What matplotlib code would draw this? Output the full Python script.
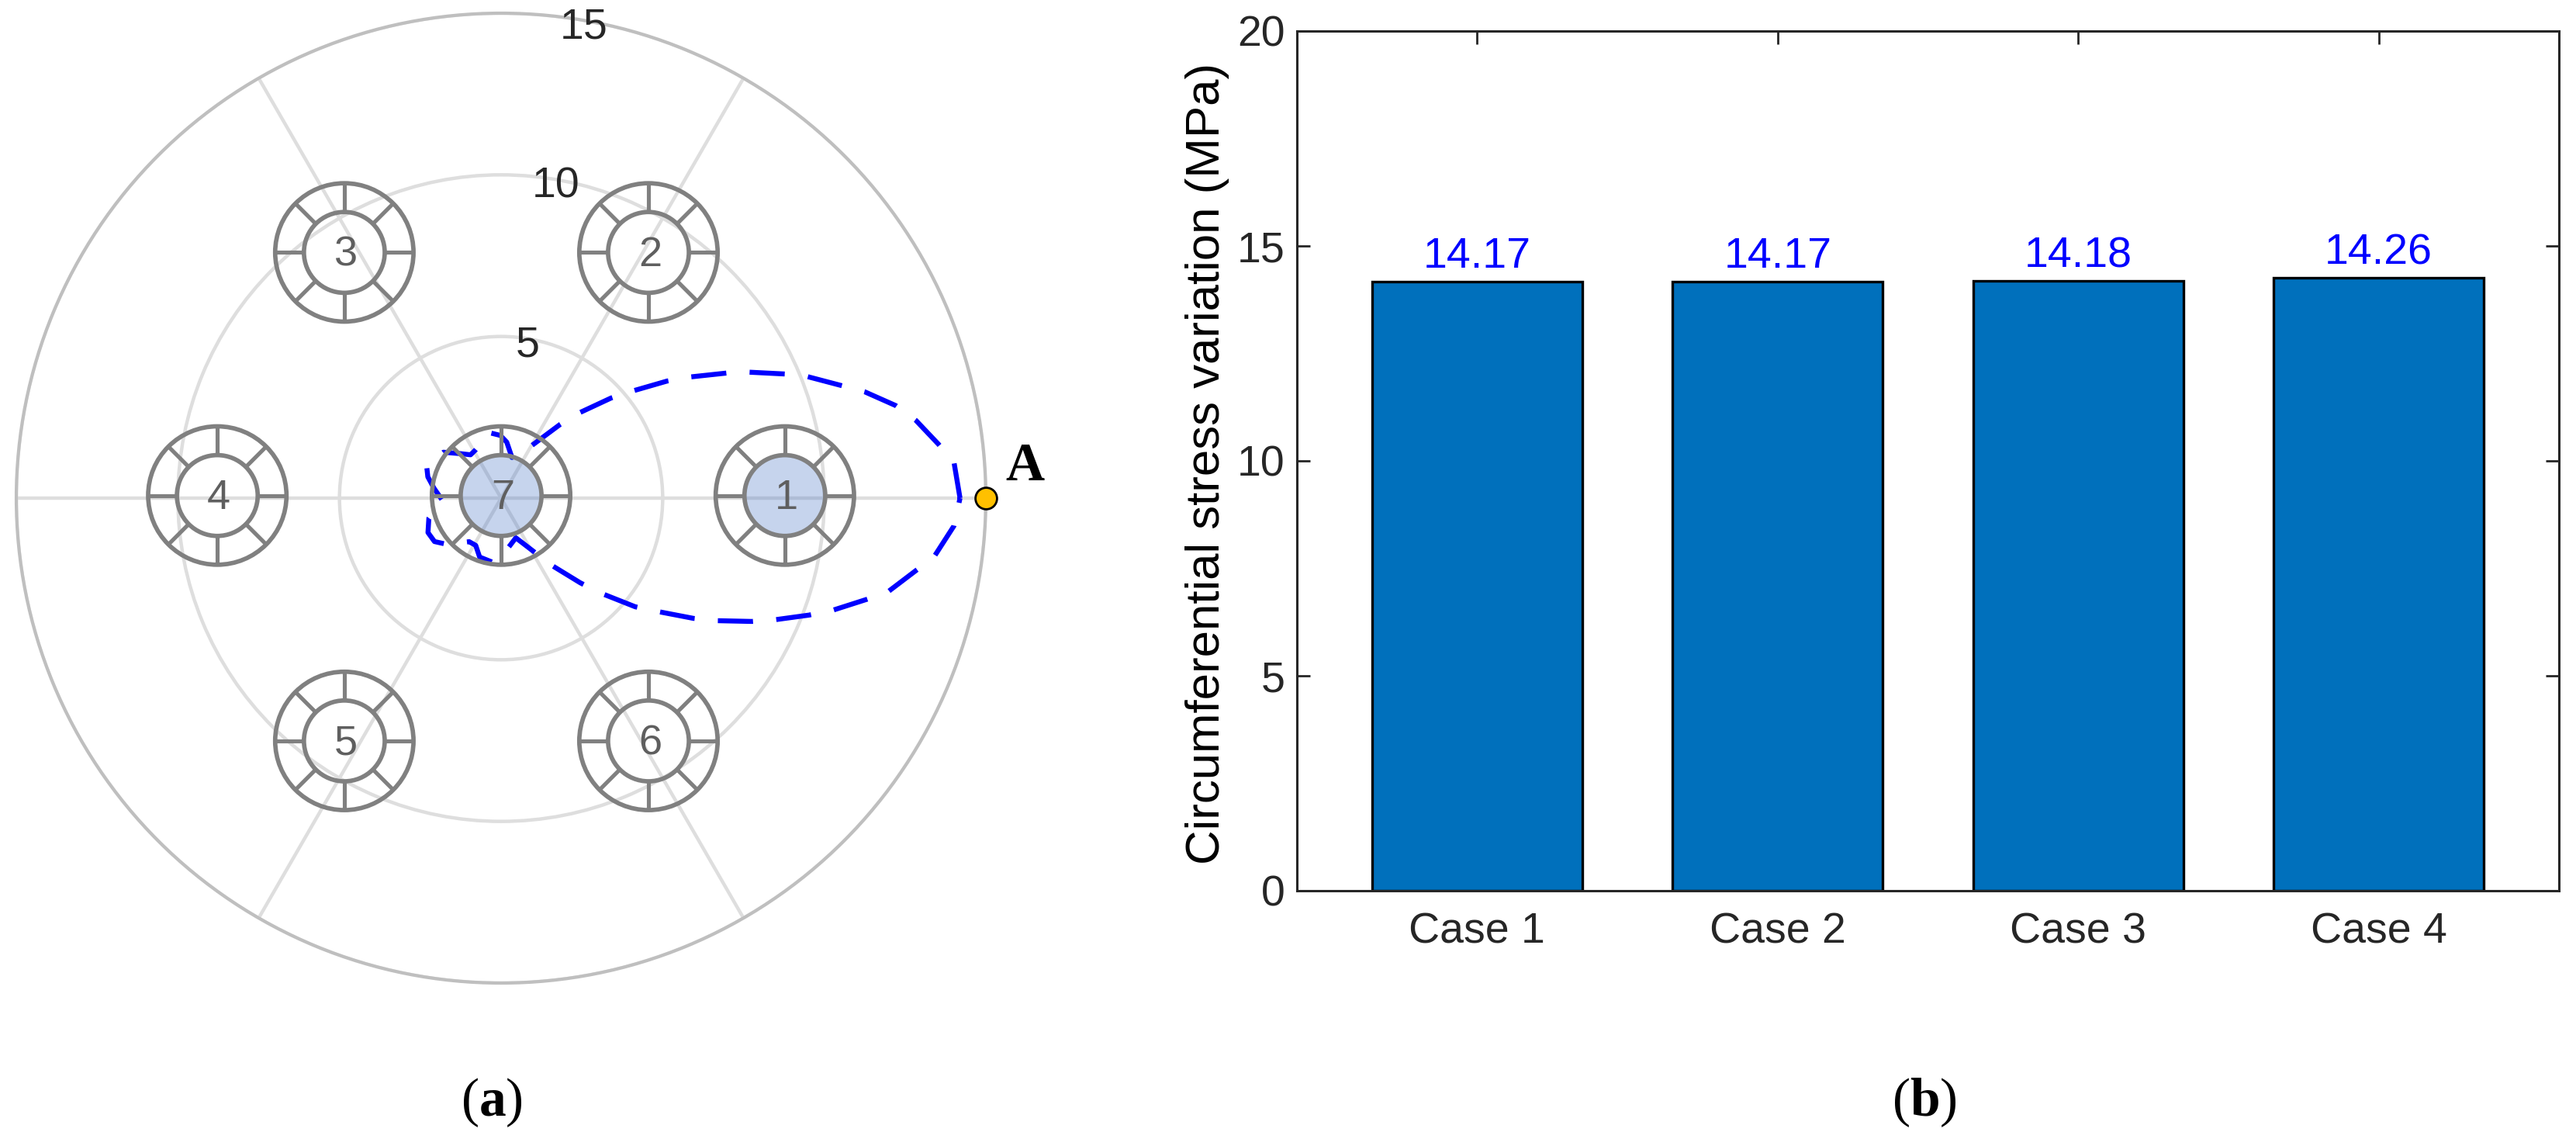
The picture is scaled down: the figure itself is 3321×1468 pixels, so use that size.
import numpy as np
import matplotlib
matplotlib.use("Agg")
import matplotlib.pyplot as plt
from matplotlib.patches import Circle

plt.rcParams['font.family'] = ['Liberation Sans', 'DejaVu Sans']
plt.rcParams['mathtext.fontset'] = 'custom'
plt.rcParams['mathtext.rm'] = 'Liberation Serif'
plt.rcParams['mathtext.bf'] = 'Liberation Serif:bold'

# ---- data: panel (a) ----
curve_theta_deg = [0, 4.4, 7.0, 10.6, 13.2, 16.3, 18.2, 21.7, 23.6, 26.9, 29.0, 32.8, 35.2, 39.1, 42.3,
                   47.8, 51.3, 59.9, 75, 84.2, 90.7, 99.7, 117.7, 125.2, 132.6, 141.5, 157, 163.8, 171.9,
                   182, 195.6, 205.2, 213.1, 219.9, 233.8, 241.8, 250, 262.4, 277.9, 290.4, 301, 306.7,
                   313.1, 316.6, 321, 324.1, 328, 330.3,
                   333.8, 335.9, 339.2, 341.2, 344.5, 346.3, 350.1, 352.2, 356.5, 360]
curve_r = [14.2, 14.06, 13.64, 13.06, 12.54, 11.72, 11.12, 10.18, 9.59, 8.61, 7.98, 6.91, 6.28, 5.26, 4.60,
           3.53, 2.92, 1.87, 1.30, 1.74, 1.94, 2.05, 1.69, 1.64, 1.87, 2.28, 2.50, 2.36, 2.09,
           1.82, 2.32, 2.50, 2.46, 2.22, 1.67, 1.66, 1.94, 2.00, 1.56, 1.31, 1.90, 2.57,
           3.59, 4.30, 5.34, 5.98, 7.02, 7.65,
           8.64, 9.23, 10.19, 10.80, 11.73, 12.30, 13.03, 13.51, 14.04, 14.2]
r_ticks = [5, 10, 15]
theta_ticks = [0, 60, 120, 180, 240, 300]
station_labels = ['1', '2', '3', '4', '5', '6', '7']
station_x = [8.78, 4.56, -4.85, -8.78, -4.85, 4.56, 0.0]
station_y = [0.08, 7.60, 7.60, 0.08, -7.51, -7.51, 0.08]
active_stations = ['1', '7']
point_A = (15.0, 0.0)

# ---- data: panel (b) ----
cases = ['Case 1', 'Case 2', 'Case 3', 'Case 4']
stress = [14.17, 14.17, 14.18, 14.26]
y_ticks = [0, 5, 10, 15, 20]

W, H = 3321, 1468
fig = plt.figure(figsize=(W / 100, H / 100), dpi=100, facecolor='white')


def rect(x0, y_top, x1, y_bot):
    return [x0 / W, 1 - y_bot / H, (x1 - x0) / W, (y_bot - y_top) / H]


GREY = '#808080'
TXT = '#262626'

# ---- polar panel ----
cx, cy, R = 646, 642, 625
pos = rect(cx - R, cy - R, cx + R, cy + R)
ax = fig.add_axes(pos, projection='polar')
ax.set_rlim(0, 15)
ax.set_rticks(r_ticks)
ax.set_thetagrids(theta_ticks, labels=[''] * len(theta_ticks))
ax.set_yticklabels([])
ax.grid(True, color='#DEDEDE', lw=3.2)
ax.spines['polar'].set_color('#BFBFBF')
ax.spines['polar'].set_linewidth(3.0)
ax.set_axisbelow(True)
ax.plot(np.deg2rad(curve_theta_deg), curve_r, color='#0000FF', lw=4.6,
        linestyle=(0, (7.1, 4.7)), dash_capstyle='butt', dash_joinstyle='round', zorder=2)
for r in r_ticks:
    ax.text(np.deg2rad(80), r - 0.22, str(r), ha='center', va='center', fontsize=40, color=TXT, zorder=5)

# ---- station overlay on same frame ----
ov = fig.add_axes(pos, facecolor='none')
ov.set_xlim(-15, 15)
ov.set_ylim(-15, 15)
ov.set_aspect('equal')
ov.axis('off')
r_in, r_out = 1.25, 2.14
for lab, x, y in zip(station_labels, station_x, station_y):
    if lab in active_stations:
        ov.add_patch(Circle((x, y), r_in, facecolor=(68 / 255, 114 / 255, 196 / 255, 0.30), edgecolor='none', zorder=3))
    ov.add_patch(Circle((x, y), r_in, fill=False, edgecolor=GREY, lw=4.1, zorder=4))
    ov.add_patch(Circle((x, y), r_out, fill=False, edgecolor=GREY, lw=4.1, zorder=4))
    for a in np.deg2rad(np.arange(0, 360, 45)):
        ov.plot([x + r_in * np.cos(a), x + r_out * np.cos(a)],
                [y + r_in * np.sin(a), y + r_out * np.sin(a)],
                color=GREY, lw=3.7, solid_capstyle='butt', zorder=4)
    ov.text(x + 0.05, y - 0.08, lab, ha='center', va='center', fontsize=39, color='#5F5F5F', zorder=5)
ov.plot([point_A[0]], [point_A[1]], 'o', ms=20, mfc='#FFC000', mec='black', mew=2.0, clip_on=False, zorder=6)
ov.text(point_A[0] + 0.62, point_A[1] + 0.55, 'A', family='Liberation Serif', fontweight='bold',
        fontsize=50, color='black', ha='left', va='baseline', clip_on=False, zorder=6)

# ---- bar panel ----
bx = fig.add_axes(rect(1672, 40, 3299, 1148))
xpos = np.arange(1, len(cases) + 1)
bars = bx.bar(xpos, stress, width=0.7, color='#0070BC', edgecolor='black', linewidth=2.4, zorder=2)
bx.set_xlim(0.4, 4.6)
bx.set_ylim(0, 20)
bx.set_xticks(xpos, cases)
bx.set_yticks(y_ticks)
bx.tick_params(axis='both', which='major', direction='in', length=12.5, width=2.0, color=TXT,
               labelcolor=TXT, labelsize=40, top=True, right=True)
bx.tick_params(axis='x', pad=20)
bx.tick_params(axis='y', pad=11)
for s in bx.spines.values():
    s.set_linewidth(2.2)
    s.set_color(TXT)
for xi, v in zip(xpos, stress):
    bx.annotate(f'{v:.2f}', (xi, v), xytext=(0, 4), textcoords='offset points', ha='center', va='bottom',
                color='#0000FF', fontsize=40)
bx.set_ylabel('Circumferential stress variation (MPa)', fontsize=44.5, color='black')
bx.yaxis.set_label_coords((1585 - 1672) / (3299 - 1672), 0.497)

# ---- captions ----
for txt, x in [(r'($\mathbf{a}$)', 634), (r'($\mathbf{b}$)', 2481)]:
    fig.text(x / W, 1 - 1421 / H, txt, family='Liberation Serif', fontsize=50, color='black',
             ha='center', va='center')

fig.savefig('out.png', dpi=100, facecolor='white')
